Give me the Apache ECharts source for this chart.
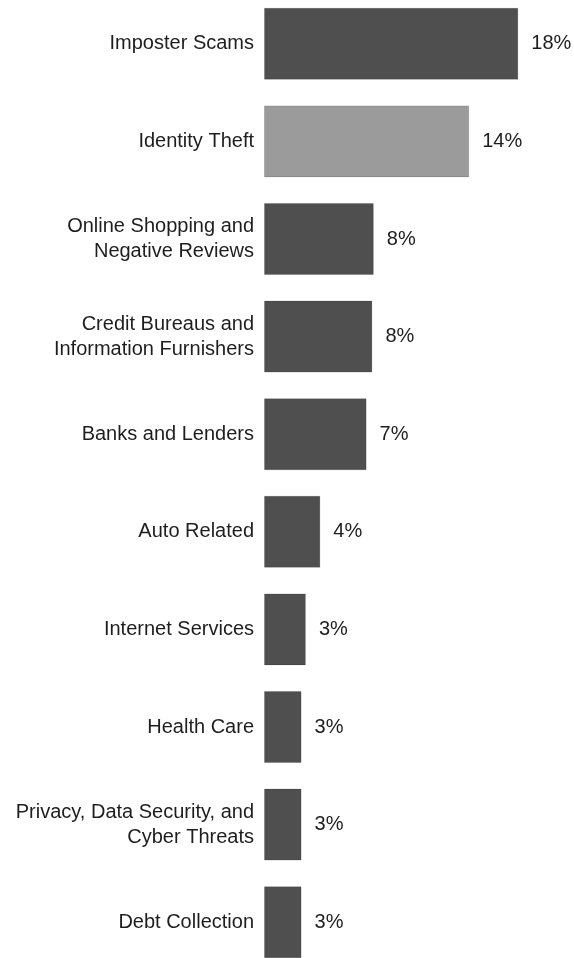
<!DOCTYPE html>
<html>
<head>
<meta charset="utf-8">
<script src="https://cdn.jsdelivr.net/npm/echarts@6/dist/echarts.min.js"></script>
<style>
html,body{margin:0;padding:0;background:#fff;}
#chart{width:574px;height:958px;}
</style>
</head>
<body>
<div id="chart"></div>
<script>
const categories = [
  'Imposter Scams',
  'Identity Theft',
  'Online Shopping and\nNegative Reviews',
  'Credit Bureaus and\nInformation Furnishers',
  'Banks and Lenders',
  'Auto Related',
  'Internet Services',
  'Health Care',
  'Privacy, Data Security, and\nCyber Threats',
  'Debt Collection'
];
const values = [17.6, 14.2, 7.6, 7.5, 7.1, 3.9, 2.9, 2.6, 2.6, 2.6];
const valueLabels = ['18%', '14%', '8%', '8%', '7%', '4%', '3%', '3%', '3%', '3%'];
const highlightIndex = 1;

const chart = echarts.init(document.getElementById('chart'));
const FONT = '"Liberation Sans", Arial, sans-serif';
chart.setOption({
  animation: false,
  backgroundColor: '#ffffff',
  grid: { left: 264, right: 21, top: -5, height: 976, containLabel: false, outerBoundsMode: 'none' },
  xAxis: {
    type: 'value', min: 0, max: 20,
    show: false
  },
  yAxis: {
    type: 'category',
    data: categories,
    inverse: true,
    axisLine: { show: false },
    axisTick: { show: false },
    axisLabel: {
      margin: 10,
      color: '#1e1e1e',
      fontFamily: FONT,
      fontSize: 20,
      lineHeight: 25,
      align: 'right'
    }
  },
  series: [{
    type: 'bar',
    barWidth: 72,
    data: values.map((v, i) => ({
      value: v,
      itemStyle: { color: i === highlightIndex ? '#9b9b9b' : '#4f4f4f' }
    })),
    itemStyle: { borderColor: 'rgba(0,0,0,0.15)', borderWidth: 1 },
    label: {
      show: true,
      position: 'right',
      distance: 13,
      color: '#1e1e1e',
      fontFamily: FONT,
      fontSize: 20,
      formatter: p => valueLabels[p.dataIndex]
    }
  }]
});
</script>
</body>
</html>
